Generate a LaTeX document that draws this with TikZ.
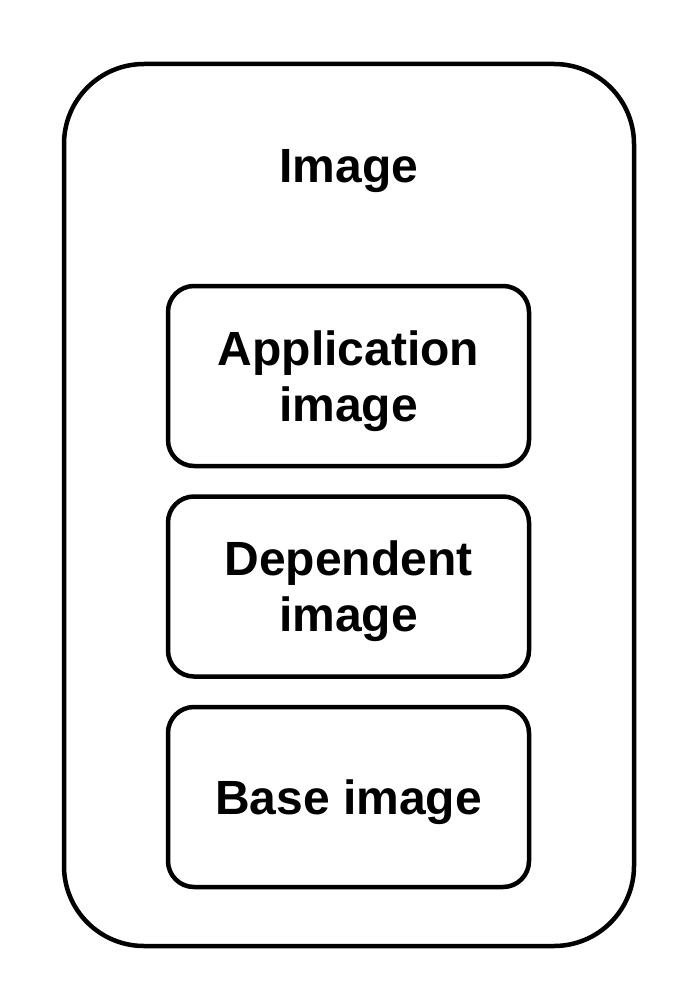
\documentclass[tikz,border=0pt]{standalone}
\usepackage{fontspec}
\setmainfont{Liberation Sans}
\usetikzlibrary{positioning}

\newcommand{\lstrut}{\rule[-5.5pt]{0pt}{50.5pt}}

\begin{document}
\begin{tikzpicture}[x=1pt, y=-1pt, font=\fontsize{48}{56}\selectfont\bfseries]

        % Setup the style for the boxes
        \tikzset{outer style/.style={draw,
                                     line width=4.5pt,
                                     rounded corners=80pt,
                                     minimum width=570pt,
                                     minimum height=882pt},
                 layer style/.style={draw,
                                     line width=4.5pt,
                                     rounded corners=26pt,
                                     align=center,
                                     inner sep=0pt,
                                     minimum width=361pt,
                                     minimum height=180pt}}

        \useasboundingbox (0, 0) rectangle (696, 1008);

        % Draw the outer image box and its title
        \node[outer style]  at (349, 505)      (image)  {};
        \node[anchor=base]  at (349, 183)      (title)  {Image};

        % Draw the layers
        \node[layer style]  at (348.5, 376)    (app)    {\lstrut Application\\\lstrut image};
        \node[layer style]  at (348.5, 586.5)  (dep)    {\lstrut Dependent\\\lstrut image};
        \node[layer style]  at (348.5, 797)    (base)   {\lstrut Base image};

    \end{tikzpicture}
\end{document}
